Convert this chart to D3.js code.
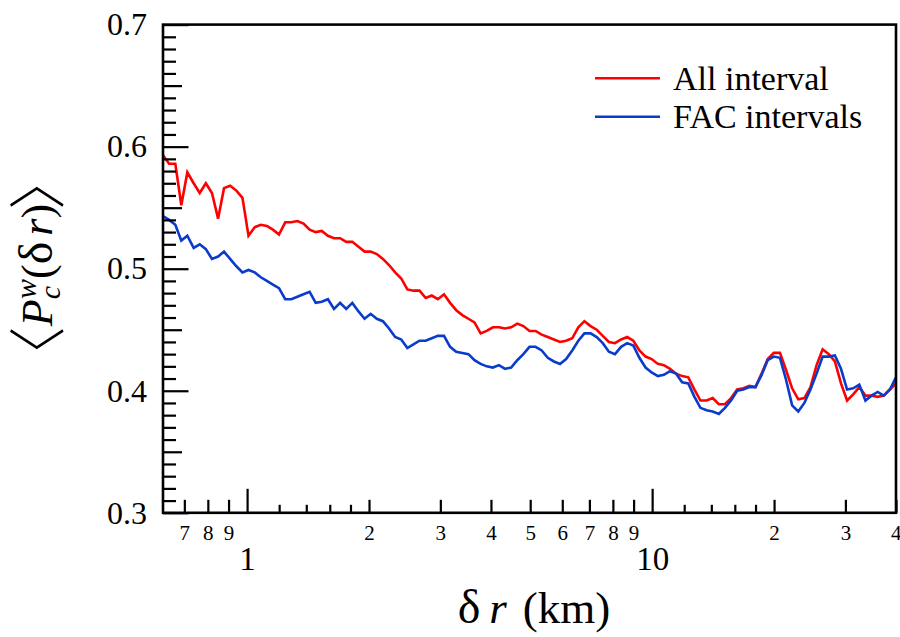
<!DOCTYPE html>
<html><head><meta charset="utf-8">
<script src="https://cdn.jsdelivr.net/npm/d3@7/dist/d3.min.js"></script>
<style>body{margin:0;background:#fff} svg{display:block}</style>
</head><body>
<svg id="c" width="900" height="637"></svg>
<script>
// scale δr in km (log spaced samples)
const dr = [0.620,0.642,0.665,0.688,0.712,0.738,0.764,0.791,0.819,0.848,0.877,0.908,0.941,0.974,1.008,1.044,1.081,1.119,1.158,1.199,1.242,1.286,1.331,1.378,1.427,1.477,1.529,1.583,1.639,1.697,1.757,1.819,1.884,1.950,2.019,2.090,2.164,2.241,2.320,2.402,2.487,2.574,2.665,2.760,2.857,2.958,3.063,3.171,3.283,3.399,3.519,3.643,3.772,3.905,4.044,4.186,4.334,4.487,4.645,4.809,4.980,5.155,5.337,5.526,5.721,5.923,6.132,6.349,6.573,6.805,7.047,7.296,7.553,7.820,8.096,8.382,8.679,8.986,9.302,9.632,9.972,10.33,10.69,11.07,11.46,11.86,12.28,12.72,13.16,13.63,14.11,14.61,15.13,15.66,16.22,16.79,17.38,17.99,18.63,19.29,19.97,20.68,21.41,22.16,22.95,23.76,24.60,25.47,26.36,27.30,28.26,29.26,30.29,31.36,32.47,33.62,34.81,36.04,37.31,38.63,40.00];

const allInterval = [
0.593,0.586,0.586,0.552,0.579,0.570,0.562,0.570,0.562,0.541,
0.566,0.568,0.564,0.558,0.527,0.534,0.536,0.535,0.532,0.528,
0.538,0.538,0.539,0.537,0.532,0.530,0.531,0.527,0.525,0.525,
0.522,0.522,0.518,0.514,0.514,0.512,0.508,0.503,0.497,0.492,
0.483,0.482,0.482,0.476,0.478,0.475,0.479,0.472,0.466,0.462,
0.459,0.456,0.447,0.449,0.452,0.452,0.451,0.452,0.455,0.453,
0.449,0.449,0.446,0.444,0.442,0.440,0.441,0.443,0.452,0.457,
0.453,0.450,0.445,0.440,0.439,0.442,0.444,0.441,0.433,0.428,
0.426,0.422,0.421,0.418,0.414,0.412,0.411,0.401,0.392,0.392,
0.394,0.389,0.389,0.394,0.401,0.402,0.404,0.403,0.414,0.426,
0.431,0.431,0.417,0.402,0.393,0.394,0.403,0.421,0.434,0.430,
0.424,0.406,0.392,0.397,0.403,0.396,0.396,0.395,0.396,0.401,
0.406];

const facIntervals = [
0.543,0.540,0.536,0.523,0.527,0.517,0.520,0.516,0.508,0.510,
0.514,0.508,0.502,0.497,0.499,0.497,0.493,0.490,0.487,0.484,
0.475,0.475,0.477,0.479,0.481,0.472,0.473,0.475,0.467,0.472,
0.467,0.472,0.465,0.459,0.463,0.459,0.457,0.451,0.444,0.442,
0.435,0.438,0.441,0.441,0.443,0.445,0.445,0.436,0.432,0.431,
0.430,0.425,0.422,0.420,0.419,0.421,0.418,0.419,0.425,0.430,
0.436,0.436,0.433,0.427,0.424,0.422,0.426,0.433,0.441,0.447,
0.447,0.444,0.439,0.432,0.430,0.436,0.439,0.437,0.427,0.419,
0.415,0.412,0.413,0.416,0.414,0.407,0.406,0.395,0.386,0.384,
0.383,0.381,0.386,0.392,0.400,0.401,0.403,0.403,0.413,0.425,
0.428,0.427,0.409,0.388,0.383,0.390,0.401,0.414,0.428,0.428,
0.429,0.418,0.401,0.402,0.405,0.392,0.396,0.399,0.396,0.401,
0.411];

const seriesNames = ["All interval", "FAC intervals"];
const seriesColors = ["#ff0000", "#0a3ccc"];

const xDomain = [0.62, 40];
const yDomain = [0.3, 0.7];
const yMajorTicks = [0.3, 0.4, 0.5, 0.6, 0.7];
const yMidTicks = [0.35, 0.45, 0.55, 0.65];
const yMinorTicks = d3.range(30, 71).map(v => v / 100).filter(v => !yMajorTicks.concat(yMidTicks).some(t => Math.abs(t - v) < 1e-9));
const xMajorTicks = [1, 10];
const xLabeledTicks = [0.7, 0.8, 0.9, 2, 3, 4, 5, 6, 7, 8, 9, 20, 30, 40];
const xSmallTicks = [1.2, 1.4, 1.6, 1.8, 12, 14, 16, 18];

const m = {left: 163, right: 896, top: 24.6, bottom: 512.8};
const FONT = "'Liberation Serif', 'Times New Roman', serif";

const svg = d3.select("#c");
const x = d3.scaleLog().domain(xDomain).range([m.left, m.right]);
const y = d3.scaleLinear().domain(yDomain).range([m.bottom, m.top]);

svg.append("defs").append("clipPath").attr("id", "clip")
  .append("rect").attr("x", m.left).attr("y", m.top)
  .attr("width", m.right - m.left).attr("height", m.bottom - m.top);

// series
const series = [allInterval, facIntervals];
const line = d3.line().x(d => x(d[0])).y(d => y(d[1]));
series.forEach((vals, k) => {
  svg.append("path")
    .datum(dr.map((d, i) => [d, vals[i]]))
    .attr("clip-path", "url(#clip)")
    .attr("fill", "none")
    .attr("stroke", seriesColors[k])
    .attr("stroke-width", 2.6)
    .attr("d", line);
});

function styleAxis(g) {
  g.select(".domain").remove();
  g.selectAll(".tick line").attr("stroke", "#000").attr("stroke-width", 2.2);
  g.selectAll("text").attr("fill", "#000").attr("font-family", FONT);
}

// Y axis
const gy = svg.append("g").attr("transform", `translate(${m.left},0)`);
gy.call(d3.axisLeft(y).tickValues(yMajorTicks).tickSizeInner(-25.5).tickSizeOuter(0)
    .tickPadding(16).tickFormat(d3.format(".1f")))
  .call(styleAxis);
gy.selectAll("text").attr("font-size", 32);
svg.append("g").attr("transform", `translate(${m.left},0)`)
  .call(d3.axisLeft(y).tickValues(yMidTicks).tickSizeInner(-19).tickSizeOuter(0).tickFormat(""))
  .call(styleAxis);
svg.append("g").attr("transform", `translate(${m.left},0)`)
  .call(d3.axisLeft(y).tickValues(yMinorTicks).tickSizeInner(-13).tickSizeOuter(0).tickFormat(""))
  .call(styleAxis);

// X axis
const gxMaj = svg.append("g").attr("transform", `translate(0,${m.bottom})`)
  .call(d3.axisBottom(x).tickValues(xMajorTicks).tickSizeInner(-24).tickSizeOuter(0)
    .tickPadding(34).tickFormat(d3.format("d")))
  .call(styleAxis);
gxMaj.selectAll("text").attr("font-size", 33);
const gxLab = svg.append("g").attr("transform", `translate(0,${m.bottom})`)
  .call(d3.axisBottom(x).tickValues(xLabeledTicks).tickSizeInner(-13).tickSizeOuter(0)
    .tickPadding(12).tickFormat(d => d < 1 ? String(Math.round(d * 10)) : (d >= 10 ? String(Math.round(d / 10)) : String(d))))
  .call(styleAxis);
gxLab.selectAll("text").attr("font-size", 21);
gxLab.selectAll(".tick").filter(d => d === 40).select("text").attr("text-anchor", "end").attr("x", 5);
svg.append("g").attr("transform", `translate(0,${m.bottom})`)
  .call(d3.axisBottom(x).tickValues(xSmallTicks).tickSizeInner(-8).tickSizeOuter(0).tickFormat(""))
  .call(styleAxis);

// frame
svg.append("rect").attr("x", m.left).attr("y", m.top)
  .attr("width", m.right - m.left).attr("height", m.bottom - m.top)
  .attr("fill", "none").attr("stroke", "#000").attr("stroke-width", 2.6);

// legend
const legY = [78.3, 116.7];
seriesNames.forEach((name, k) => {
  svg.append("line").attr("x1", 595).attr("x2", 660).attr("y1", legY[k]).attr("y2", legY[k])
    .attr("stroke", seriesColors[k]).attr("stroke-width", 2.6);
  svg.append("text").attr("x", 673).attr("y", legY[k] + 11.5)
    .attr("font-family", FONT).attr("font-size", 34).attr("fill", "#000").text(name);
});

// x title
const xt = svg.append("text").attr("x", 534).attr("y", 623).attr("text-anchor", "middle")
  .attr("font-family", FONT).attr("font-size", 45).attr("fill", "#000");
xt.append("tspan").attr("font-size", 48).text("δ");
xt.append("tspan").attr("font-style", "italic").attr("dx", 9).text("r");
xt.append("tspan").attr("dx", 16).text("(km)");

// y title
const BR = "'Noto Sans CJK JP', 'Noto Sans CJK SC', sans-serif";
const yt = svg.append("text").attr("transform", "translate(52,268) rotate(-90)")
  .attr("text-anchor", "middle").attr("font-family", FONT).attr("font-size", 44).attr("fill", "#000");
yt.append("tspan").attr("font-family", BR).attr("font-weight", 300).attr("font-size", 58).attr("dy", 7).text("\u3008");
yt.append("tspan").attr("dx", 0).attr("dy", -7).attr("font-style", "italic").text("P");
yt.append("tspan").attr("font-style", "italic").attr("font-size", 30).attr("dy", 8).text("c");
yt.append("tspan").attr("font-style", "italic").attr("font-size", 30).attr("dx", -13).attr("dy", -24).text("w");
yt.append("tspan").attr("dy", 16).text("(");
yt.append("tspan").attr("font-size", 48).text("δ");
yt.append("tspan").attr("dx", 6).attr("font-style", "italic").text("r");
yt.append("tspan").text(")");
yt.append("tspan").attr("dx", -6).attr("dy", 7).attr("font-family", BR).attr("font-weight", 300).attr("font-size", 58).text("\u3009");
</script>
</body></html>
